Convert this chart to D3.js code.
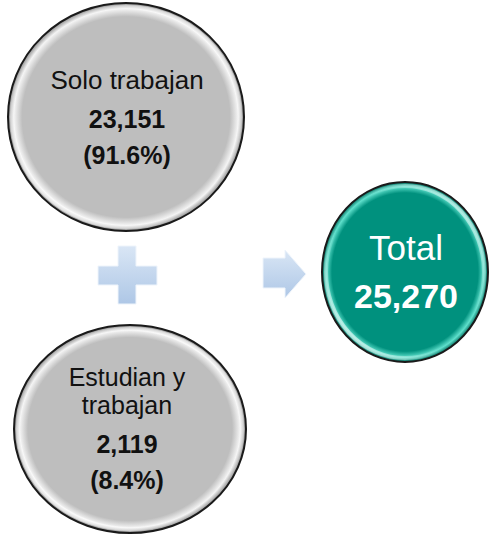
<html>
<head>
<meta charset="utf-8">
<style>
  body { margin: 0; padding: 0; background: #ffffff; font-family: "Liberation Sans", Arial, sans-serif; }
  svg { display: block; }
</style>
</head>
<body>
<svg width="490" height="539"></svg>
<script src="https://d3js.org/d3.v7.min.js"></script>
<script>
// datos
var categorias = ["Solo trabajan", "Estudian y trabajan"];
var etiquetas = [["Solo trabajan"], ["Estudian y", "trabajan"]];
var valores = [23151, 2119];
var porcentajes = [91.6, 8.4];
var totalLabel = "Total";
var total = 25270;

var svg = d3.select("svg");
var fmt = d3.format(",");

var defs = svg.append("defs");

function bevelGradient(id, light, base, dark) {
    var g = defs.append("radialGradient").attr("id", id)
        .attr("cx", "50%").attr("cy", "50%").attr("r", "50%");
    g.append("stop").attr("offset", "0%").attr("stop-color", base);
    g.append("stop").attr("offset", "88%").attr("stop-color", base);
    g.append("stop").attr("offset", "95%").attr("stop-color", light);
    g.append("stop").attr("offset", "100%").attr("stop-color", dark);
}
bevelGradient("grisGrad", "#f4f4f4", "#bebebe", "#8c8c8c");
bevelGradient("verdeGrad", "#5fe0cc", "#00917e", "#006b5c");

var shine = defs.append("linearGradient").attr("id", "shine")
    .attr("x1", "0").attr("y1", "1").attr("x2", "1").attr("y2", "0");
shine.append("stop").attr("offset", "0%").attr("stop-color", "#ffffff").attr("stop-opacity", 0.9);
shine.append("stop").attr("offset", "40%").attr("stop-color", "#ffffff").attr("stop-opacity", 0);
shine.append("stop").attr("offset", "60%").attr("stop-color", "#ffffff").attr("stop-opacity", 0);
shine.append("stop").attr("offset", "100%").attr("stop-color", "#ffffff").attr("stop-opacity", 0.8);

var iconGrad = defs.append("linearGradient").attr("id", "iconGrad")
    .attr("x1", "0").attr("y1", "0").attr("x2", "0").attr("y2", "1");
iconGrad.append("stop").attr("offset", "0%").attr("stop-color", "#d9e6f5");
iconGrad.append("stop").attr("offset", "100%").attr("stop-color", "#aec7e6");

// escalas de posicion
var y = d3.scaleOrdinal().domain(categorias).range([117, 429]);
var rx = d3.scaleOrdinal().domain(categorias).range([118, 116]);
var ry = d3.scaleOrdinal().domain(categorias).range([114, 104]);
var cx = d3.scaleOrdinal().domain(categorias).range([126, 130]);
// primera linea de texto (linea base)
var texto0 = d3.scaleOrdinal().domain(categorias).range([89, 386]);
var textoX = 127;
var interlinea = 28;

function burbuja(g, x0, y0, a, b, fill) {
    g.append("ellipse").attr("cx", x0).attr("cy", y0).attr("rx", a).attr("ry", b)
        .attr("fill", fill);
    g.append("ellipse").attr("cx", x0).attr("cy", y0).attr("rx", a - 4).attr("ry", b - 4)
        .attr("fill", "none").attr("stroke", "url(#shine)").attr("stroke-width", 4);
    g.append("ellipse").attr("cx", x0).attr("cy", y0).attr("rx", a).attr("ry", b)
        .attr("fill", "none").attr("stroke", "#1a1a1a").attr("stroke-width", 2);
}

svg.selectAll(".parte")
    .data(categorias)
    .enter()
    .append("g")
    .attr("class", "parte")
    .each(function(d, i) {
        var g = d3.select(this);
        burbuja(g, cx(d), y(d), rx(d), ry(d), "url(#grisGrad)");

        var lineas = etiquetas[i];
        var start = texto0(d);
        var label = g.append("text").attr("x", textoX).attr("y", start)
            .attr("text-anchor", "middle").attr("font-size", lineas.length > 1 ? 25 : 26).attr("fill", "#111");
        lineas.forEach(function(t, j) {
            label.append("tspan").attr("x", textoX).attr("dy", j == 0 ? 0 : interlinea).text(t);
        });
        var after = start + (lineas.length - 1) * interlinea;
        g.append("text").attr("x", textoX).attr("y", after + 39)
            .attr("text-anchor", "middle").attr("font-size", 25).attr("font-weight", "bold").attr("fill", "#111")
            .text(fmt(valores[i]));
        g.append("text").attr("x", textoX).attr("y", after + 75)
            .attr("text-anchor", "middle").attr("font-size", 25).attr("font-weight", "bold").attr("fill", "#111")
            .text("(" + porcentajes[i] + "%)");
    });

// total
var gt = svg.append("g").attr("class", "total");
burbuja(gt, 405, 272, 83, 90, "url(#verdeGrad)");
gt.append("text").attr("x", 406).attr("y", 260).attr("text-anchor", "middle")
    .attr("font-size", 35).attr("fill", "#ffffff").text(totalLabel);
gt.append("text").attr("x", 406).attr("y", 308).attr("text-anchor", "middle")
    .attr("font-size", 34).attr("font-weight", "bold").attr("fill", "#ffffff").text(fmt(total));

// signo mas
var plus = "M118,246 H136 V266 H157 V285 H136 V304 H118 V285 H98 V266 H118 Z";
svg.append("path").attr("d", plus).attr("fill", "url(#iconGrad)")
    .attr("stroke", "#eef4fb").attr("stroke-width", 1);

// flecha
var flecha = "M263,258 H285 V250 L306,274 L285,298 V288 H263 Z";
svg.append("path").attr("d", flecha).attr("fill", "url(#iconGrad)")
    .attr("stroke", "#eef4fb").attr("stroke-width", 1);
</script>
</body>
</html>
